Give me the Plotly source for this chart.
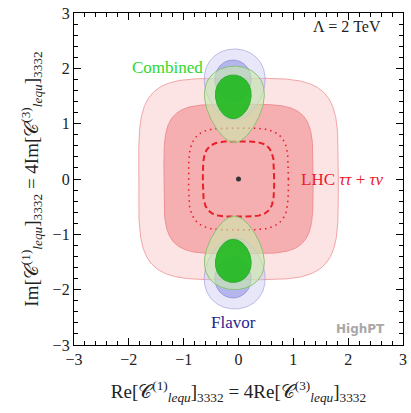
import numpy as np
import plotly.graph_objects as go

# ---------------- data ----------------
# LHC tau tau + tau nu : filled regions (half-widths of rounded squares, outer -> inner)
lhc_fill_half_x = [1.82, 1.36]
lhc_fill_half_y = [1.82, 1.35]
# LHC projection lines (dotted, dashed)
lhc_line_half_x = [0.91, 0.65]
lhc_line_half_y = [0.92, 0.68]
lhc_exponent = 4.5
lhc_line_exponent = 4.0

# Flavor regions: [cx, cy, half-width, half-height, egg-ness] for each lobe (outer, inner)
flavor_outer = [[-0.07, 1.71, 0.55, 0.64, 0.15], [-0.07, -1.71, 0.55, 0.64, 0.15]]
flavor_inner = [[-0.10, 1.78, 0.33, 0.37, 0.05], [-0.10, -1.78, 0.33, 0.37, 0.05]]
# Combined regions
combined_outer = [[-0.075, 1.35, 0.525, 0.69, 0.30], [-0.075, -1.335, 0.525, 0.665, 0.30]]
combined_inner = [[-0.095, 1.485, 0.325, 0.395, 0.10], [-0.095, -1.48, 0.325, 0.39, 0.10]]

sm_point_x = [0.0]
sm_point_y = [0.0]

x_range = [-3, 3]
y_range = [-3, 3]
tick_vals = [-3, -2, -1, 0, 1, 2, 3]

# ---------------- helpers ----------------
def superellipse(a, b, n, N=500):
    t = np.linspace(0, 2 * np.pi, N)
    c, s = np.cos(t), np.sin(t)
    x = a * np.sign(c) * np.abs(c) ** (2.0 / n)
    y = b * np.sign(s) * np.abs(s) ** (2.0 / n)
    return x, y


def egg(p, N=300):
    cx, cy, w, h, k = p
    t = np.linspace(0, 2 * np.pi, N)
    s = np.sin(t)
    d = 1.0 if cy > 0 else -1.0  # wider away from the origin
    x = cx + w * np.cos(t) * (1 + k * s * d)
    y = cy + h * s
    return x, y


fig = go.Figure()

# LHC filled regions
lhc_colors = [("rgba(252,227,228,1)", "rgba(242,165,168,1)"),
              ("rgba(246,175,177,1)", "rgba(238,145,148,1)")]
for i in range(len(lhc_fill_half_x)):
    x, y = superellipse(lhc_fill_half_x[i], lhc_fill_half_y[i], lhc_exponent)
    fig.add_trace(go.Scatter(x=x, y=y, mode="lines", fill="toself",
                             fillcolor=lhc_colors[i][0],
                             line=dict(color=lhc_colors[i][1], width=1),
                             hoverinfo="skip", showlegend=False))

# LHC lines
line_styles = ["1.5px,4px", "6px,3.5px"]
line_widths = [1.6, 2.0]
for i in range(len(lhc_line_half_x)):
    x, y = superellipse(lhc_line_half_x[i], lhc_line_half_y[i], lhc_line_exponent)
    fig.add_trace(go.Scatter(x=x, y=y, mode="lines",
                             line=dict(color="#e8202a", width=line_widths[i], dash=line_styles[i]),
                             hoverinfo="skip", showlegend=False))

# Flavor
for p in flavor_outer:
    x, y = egg(p)
    fig.add_trace(go.Scatter(x=x, y=y, mode="lines", fill="toself",
                             fillcolor="rgba(195,195,240,0.4)",
                             line=dict(color="rgba(150,150,215,0.6)", width=1),
                             hoverinfo="skip", showlegend=False))
for p in flavor_inner:
    x, y = egg(p)
    fig.add_trace(go.Scatter(x=x, y=y, mode="lines", fill="toself",
                             fillcolor="rgba(150,150,230,0.6)",
                             line=dict(color="rgba(120,120,200,0.6)", width=1),
                             hoverinfo="skip", showlegend=False))

# Combined
for p in combined_outer:
    x, y = egg(p)
    fig.add_trace(go.Scatter(x=x, y=y, mode="lines", fill="toself",
                             fillcolor="rgba(200,235,170,0.6)",
                             line=dict(color="rgba(130,190,110,0.9)", width=1),
                             hoverinfo="skip", showlegend=False))
for p in combined_inner:
    x, y = egg(p)
    fig.add_trace(go.Scatter(x=x, y=y, mode="lines", fill="toself",
                             fillcolor="rgba(30,185,30,0.9)",
                             line=dict(color="rgba(40,170,40,0.9)", width=1),
                             hoverinfo="skip", showlegend=False))

# SM point
fig.add_trace(go.Scatter(x=sm_point_x, y=sm_point_y, mode="markers",
                         marker=dict(color="#333333", size=5),
                         hoverinfo="skip", showlegend=False))

serif = "Liberation Serif, DejaVu Serif, serif"

fig.add_annotation(x=-1.29, y=2.01, text="Combined", showarrow=False,
                   font=dict(family=serif, size=17, color="#2ed82e"))
fig.add_annotation(x=-0.10, y=-2.6, text="Flavor", showarrow=False,
                   font=dict(family=serif, size=17, color="#1f1f8f"))
fig.add_annotation(x=1.89, y=0.0, text="LHC <i>ττ</i> + <i>τν</i>", showarrow=False,
                   font=dict(family=serif, size=17, color="#e8202a"))
fig.add_annotation(x=1.97, y=2.75, text="Λ = 2 TeV", showarrow=False,
                   font=dict(family=serif, size=16, color="#222222"))
fig.add_annotation(x=2.23, y=-2.71, text="<b>HighPT</b>", showarrow=False,
                   font=dict(family="DejaVu Sans", size=12, color="#a8a8a8"))

axis_common = dict(
    tickvals=tick_vals, ticks="inside", ticklen=7, tickwidth=1,
    tickcolor="black", mirror="allticks", showline=True, linecolor="black",
    linewidth=1.3, showgrid=False, zeroline=False,
    tickfont=dict(family=serif, size=16, color="#222222"),
    minor=dict(dtick=0.2, ticks="inside", ticklen=3.5, tickcolor="black", tickwidth=1),
)

xtitle = ("Re[𝒞<sup>(1)</sup><sub><i>lequ</i></sub>]<sub>3332</sub> = "
          "4Re[𝒞<sup>(3)</sup><sub><i>lequ</i></sub>]<sub>3332</sub>")
ytitle = ("Im[𝒞<sup>(1)</sup><sub><i>lequ</i></sub>]<sub>3332</sub> = "
          "4Im[𝒞<sup>(3)</sup><sub><i>lequ</i></sub>]<sub>3332</sub>")

fig.update_xaxes(**axis_common, range=x_range,
                 title=dict(text=xtitle, font=dict(family=serif, size=19, color="#222222"), standoff=17))
fig.update_yaxes(**axis_common, range=y_range,
                 title=dict(text=ytitle, font=dict(family=serif, size=19, color="#222222"), standoff=8))

fig.update_layout(
    width=411, height=413,
    margin=dict(l=74, r=4, t=13, b=68),
    plot_bgcolor="white", paper_bgcolor="white",
)

fig.write_html("out.html")
